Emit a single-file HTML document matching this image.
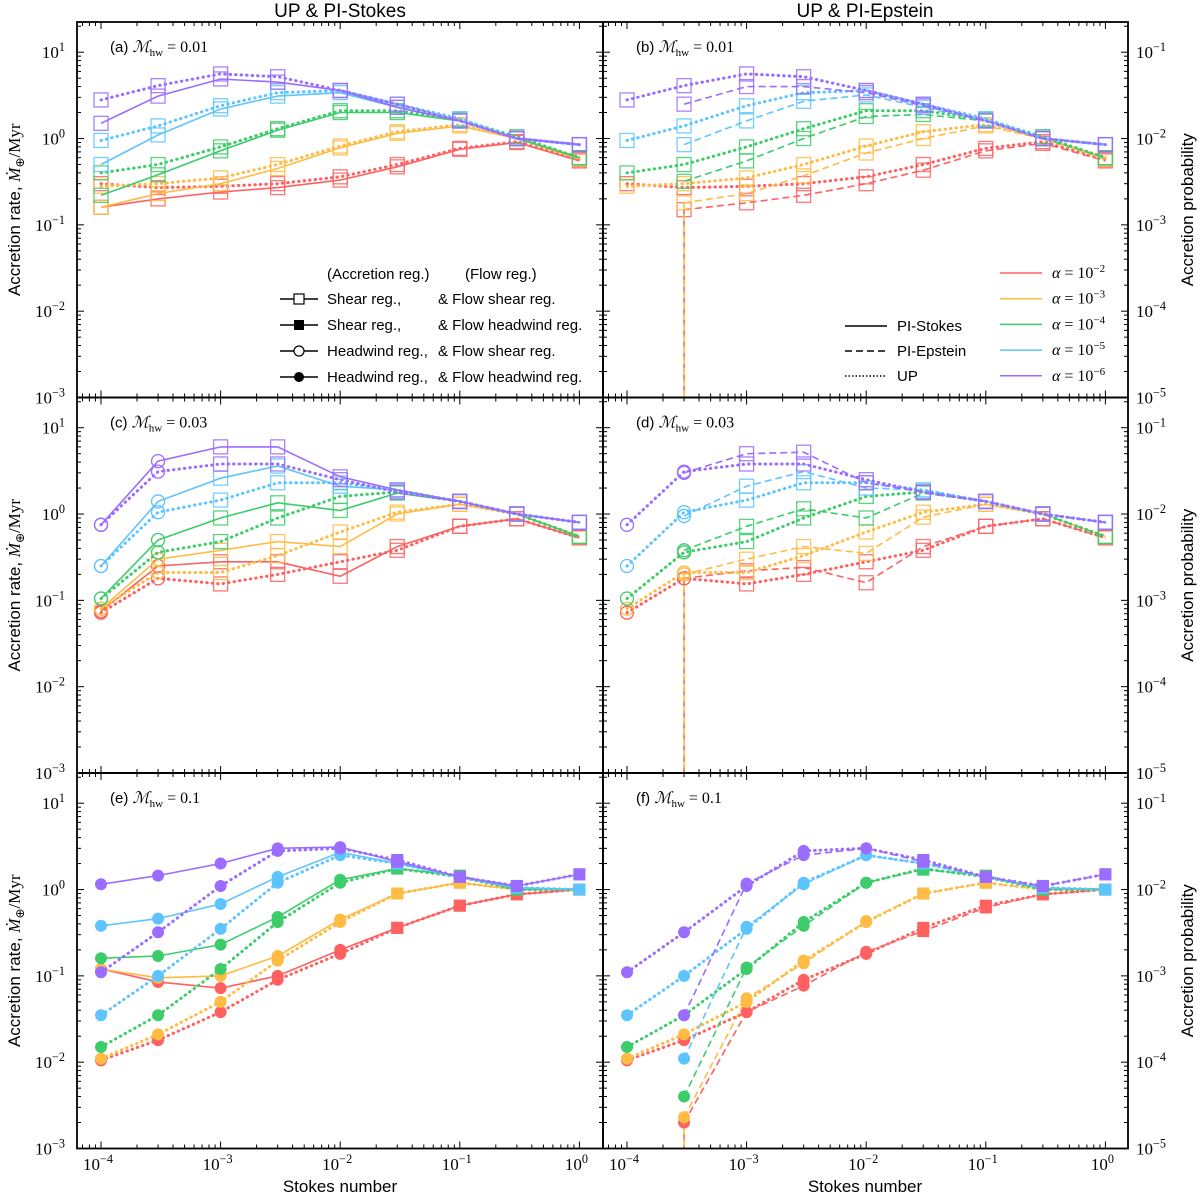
<!DOCTYPE html>
<html><head><meta charset="utf-8"><style>
body{margin:0;background:#fff;}
svg text{font-family:"Liberation Sans","DejaVu Sans",sans-serif;}
.ser{font-family:"Liberation Serif","DejaVu Serif",serif;}
</style></head><body>
<svg id="fig" width="1200" height="1198" viewBox="0 0 1200 1198" xmlns="http://www.w3.org/2000/svg"></svg>
<script>
const stokes=[1e-4,3e-4,1e-3,3e-3,1e-2,3e-2,1e-1,3e-1,1];
const colors=['#ff6060','#ffbb44','#3dcc6a','#5ec4ff','#9a6cff'];
const alphaLabels=['-2','-3','-4','-5','-6'];
const aSolid=[[0.16,0.2,0.24,0.27,0.33,0.47,0.75,0.9,0.55],[0.16,0.23,0.3,0.45,0.78,1.15,1.4,1.0,0.58],[0.22,0.38,0.72,1.25,2.0,2.0,1.6,1.0,0.6],[0.5,1.1,2.2,3.1,3.4,2.3,1.6,1.0,0.85],[1.5,3.1,4.9,4.5,3.6,2.3,1.6,1.0,0.85]];
const aUP=[[0.3,0.27,0.28,0.3,0.36,0.5,0.77,0.92,0.57],[0.28,0.3,0.35,0.5,0.82,1.2,1.45,1.0,0.6],[0.4,0.5,0.8,1.3,2.1,2.1,1.65,1.05,0.6],[0.95,1.4,2.4,3.4,3.6,2.5,1.7,1.0,0.85],[2.8,4.1,5.6,5.2,3.6,2.5,1.6,1.0,0.85]];
const bDash=[[null,0.15,0.18,0.22,0.3,0.43,0.72,0.88,0.55],[null,0.18,0.23,0.37,0.68,1.0,1.4,1.0,0.58],[null,0.32,0.55,1.0,1.8,1.9,1.6,1.0,0.6],[null,0.85,1.6,2.7,3.2,2.3,1.6,1.0,0.85],[null,2.5,4.0,4.0,3.4,2.4,1.6,1.0,0.85]];
const cSolid=[[0.075,0.25,0.28,0.28,0.19,0.42,0.72,0.88,0.53],[0.08,0.3,0.38,0.48,0.42,1.0,1.3,1.0,0.55],[0.105,0.5,0.9,1.35,1.1,1.75,1.4,1.0,0.55],[0.25,1.4,2.6,3.6,2.1,1.9,1.4,1.0,0.8],[0.75,4.1,6.0,6.0,2.7,1.9,1.4,1.0,0.8]];
const cUP=[[0.072,0.18,0.155,0.2,0.28,0.38,0.72,0.88,0.53],[0.08,0.21,0.21,0.33,0.62,1.05,1.3,1.0,0.55],[0.105,0.36,0.48,0.9,1.6,1.8,1.4,1.0,0.55],[0.25,1.05,1.45,2.3,2.3,1.9,1.4,1.0,0.8],[0.75,3.1,3.8,3.8,2.5,1.8,1.4,1.0,0.8]];
const dDash=[[null,0.18,0.22,0.24,0.16,0.42,0.72,0.88,0.53],[null,0.2,0.3,0.42,0.35,0.92,1.3,1.0,0.55],[null,0.38,0.72,1.15,0.9,1.75,1.4,1.0,0.55],[null,0.95,2.1,3.1,2.0,1.9,1.4,1.0,0.8],[null,3.0,5.0,5.2,2.3,1.8,1.4,1.0,0.8]];
const eSolid=[[0.12,0.085,0.072,0.1,0.2,0.36,0.65,0.88,1.0],[0.12,0.095,0.1,0.17,0.45,0.9,1.2,1.0,1.0],[0.16,0.17,0.23,0.48,1.3,1.75,1.45,1.0,1.0],[0.38,0.46,0.68,1.4,2.7,2.0,1.4,1.05,1.0],[1.15,1.45,2.0,3.0,3.1,2.1,1.4,1.1,1.5]];
const eUP=[[0.0105,0.018,0.038,0.09,0.18,0.36,0.65,0.88,1.0],[0.011,0.021,0.05,0.15,0.42,0.9,1.2,1.0,1.0],[0.015,0.035,0.12,0.42,1.2,1.75,1.4,1.0,1.0],[0.035,0.1,0.35,1.2,2.5,2.0,1.4,1.05,1.0],[0.11,0.32,1.1,2.8,3.0,2.2,1.4,1.1,1.5]];
const fDash=[[null,0.002,0.038,0.077,0.19,0.33,0.62,0.88,1.0],[null,0.0023,0.055,0.14,0.43,0.9,1.2,1.0,1.0],[null,0.004,0.125,0.38,1.2,1.7,1.45,1.0,1.0],[null,0.011,0.37,1.15,2.5,2.0,1.4,1.05,1.0],[null,0.035,1.17,2.5,3.0,2.1,1.4,1.1,1.5]];
const panelLabels=['(a)','(b)','(c)','(d)','(e)','(f)'];
const mhw=['0.01','0.01','0.03','0.03','0.1','0.1'];
const xTicks=[-4,-3,-2,-1,0];
const yTicks=[1,0,-1,-2,-3];

const NS='http://www.w3.org/2000/svg';
const svg=document.getElementById('fig');
function el(tag,attrs,parent,txt){const e=document.createElementNS(NS,tag);for(const k in attrs)e.setAttribute(k,attrs[k]);if(txt!=null)e.textContent=txt;(parent||svg).appendChild(e);return e;}
const cols=[{x0:77,x1:603,xa:101},{x0:603,x1:1128,xa:627}];
const rows=[{y0:22,y1:397.5},{y0:397.5,y1:773},{y0:773,y1:1148.5}];
const dec=119.6, ymax=1.35, ymin=-3;
function X(c,v){return cols[c].xa+(Math.log10(v)+4)*dec;}
function Y(r,v){const R=rows[r];return R.y1-(Math.log10(v)-ymin)/(ymax-ymin)*(R.y1-R.y0);}

function sup(parent,x,y,base,exp,anchor,size){
  const t=el('text',{x:x,y:y,'text-anchor':anchor,'font-size':size,class:'ser',fill:'#000'},parent);
  el('tspan',{},t,base);el('tspan',{dy:-7,'font-size':size*0.72},t,'−'+exp.replace('-',''));
  if(exp.indexOf('-')<0){t.lastChild.textContent=exp;}
  return t;
}

function marker(g,kind,x,y,col){
  if(kind==='os'){const m=el('rect',{x:x-7,y:y-7,width:14,height:14,fill:'none',stroke:col,'stroke-width':1.3,opacity:0.85},g);}
  else if(kind==='oc'){const m=el('circle',{cx:x,cy:y,r:6.5,fill:'none',stroke:col,'stroke-width':1.3},g);}
  else if(kind==='fs'){const m=el('rect',{x:x-6,y:y-6,width:12,height:12,fill:col},g);}
  else {const m=el('circle',{cx:x,cy:y,r:6,fill:col},g);}
}
function mkind(row,i){
  if(row===0)return 'os';
  if(row===1)return i<=1?'oc':'os';
  return i<=4?'fc':'fs';
}
const dashes={solid:'',dot:'0.5,5',dash:'7,4'};
function series(c,r,vals,col,style,name){
  const g=el('g',{});
  
  
  const pts=[];vals.forEach((v,i)=>{if(v!=null)pts.push([X(c,stokes[i]),Y(r,v),i]);});
  const p=el('polyline',{points:pts.map(p=>p[0].toFixed(1)+','+p[1].toFixed(1)).join(' '),fill:'none',stroke:col,'stroke-width':style==='dot'?3:1.6,'stroke-dasharray':dashes[style],'stroke-linecap':style==='dot'?'round':'butt'},g);
  
  
  pts.forEach(p=>marker(g,mkind(r,p[2]),p[0],p[1],col));
  return pts;
}

for(let r=0;r<3;r++)for(let c=0;c<2;c++){
  const idx=r*2+c;
  const g=el('g',{});
  
  
  const x0=cols[c].x0,x1=cols[c].x1,y0=rows[r].y0,y1=rows[r].y1;
  for(let d=-5;d<=1;d++)for(let m=1;m<10;m++){
    const v=Math.pow(10,d)*m;const lv=Math.log10(v);
    if(lv<-4.2||lv>0.2)continue;const x=X(c,v);if(x<x0||x>x1)continue;
    const L=m===1?7:4;
    el('line',{x1:x,x2:x,y1:y1,y2:y1-L,stroke:'#000','stroke-width':1},g);
    el('line',{x1:x,x2:x,y1:y0,y2:y0+L,stroke:'#000','stroke-width':1},g);
  }
  for(let d=-3;d<=1;d++)for(let m=1;m<10;m++){
    const v=Math.pow(10,d)*m;if(Math.log10(v)>ymax)continue;const y=Y(r,v);
    const L=m===1?7:4;
    el('line',{x1:x0,x2:x0+L,y1:y,y2:y,stroke:'#000','stroke-width':1},g);
    el('line',{x1:x1,x2:x1-L,y1:y,y2:y,stroke:'#000','stroke-width':1},g);
  }
  const sets=[[aSolid,aUP,bDash],[cSolid,cUP,dDash],[eSolid,eUP,fDash]][r];
  for(let k=0;k<5;k++){
    if(c===0){series(c,r,sets[0][k],colors[k],'solid','pi-stokes-alpha'+alphaLabels[k]);}
    else{
      const pts=series(c,r,sets[2][k],colors[k],'dash','pi-epstein-alpha'+alphaLabels[k]);
      if(k<=1){const vl=el('line',{x1:pts[0][0],x2:pts[0][0],y1:pts[0][1],y2:y1,stroke:colors[k],'stroke-width':1.6,'stroke-dasharray':'7,4'});}
    }
    series(c,r,sets[1][k],colors[k],'dot','up-alpha'+alphaLabels[k]);
  }
  const fr=el('rect',{x:x0,y:y0,width:x1-x0,height:y1-y0,fill:'none',stroke:'#000','stroke-width':1.8});
  
  const pl=el('text',{x:x0+33,y:y0+30,'font-size':15,fill:'#000'},null);
  
  el('tspan',{},pl,panelLabels[idx]+' ');
  el('tspan',{'font-style':'italic',class:'ser','font-size':16},pl,'ℳ');
  el('tspan',{dy:4,'font-size':11,class:'ser'},pl,'hw');
  el('tspan',{dy:-4,class:'ser','font-size':16},pl,' = '+mhw[idx]);
  yTicks.forEach(t=>{
    const y=Y(r,Math.pow(10,t))+6;
    if(c===0){const s=sup(null,65,y,'10',String(t),'end',17);}
    else{const s=sup(null,1136,y,'10',String(t-2),'start',17);}
  });
  if(r===2){xTicks.forEach(t=>{const s=sup(null,X(c,Math.pow(10,t))-3,1170,'10',String(t),'middle',17);});}
  const yc=(y0+y1)/2;
  if(c===0){const t=el('text',{x:0,y:0,transform:`translate(20,${yc}) rotate(-90)`,'text-anchor':'middle','font-size':17,fill:'#000'});
    el('tspan',{},t,'Accretion rate, ');el('tspan',{'font-style':'italic',class:'ser'},t,'Ṁ');el('tspan',{dy:4,'font-size':12},t,'⊕');el('tspan',{dy:-4,class:'ser'},t,'/Myr');}
  else{const t=el('text',{x:0,y:0,transform:`translate(1193,${yc}) rotate(-90)`,'text-anchor':'middle','font-size':17,fill:'#000'},null,'Accretion probability');}
}
let t=el('text',{x:340,y:17,'text-anchor':'middle','font-size':19,fill:'#000'},null,'UP & PI-Stokes');
t=el('text',{x:865,y:17,'text-anchor':'middle','font-size':19,fill:'#000'},null,'UP & PI-Epstein');
t=el('text',{x:340,y:1192,'text-anchor':'middle','font-size':17,fill:'#000'},null,'Stokes number');
t=el('text',{x:865,y:1192,'text-anchor':'middle','font-size':17,fill:'#000'},null,'Stokes number');

const la=el('g',{});
el('text',{x:327,y:279,'font-size':15},la,'(Accretion reg.)');
el('text',{x:465,y:279,'font-size':15},la,'(Flow reg.)');
const regRows=[['os','Shear reg.,','& Flow shear reg.'],['fs','Shear reg.,','& Flow headwind reg.'],['oc','Headwind reg.,','& Flow shear reg.'],['fc','Headwind reg.,','& Flow headwind reg.']];
regRows.forEach((rr,i)=>{const y=299+i*26;const g=el('g',{},la);
  el('line',{x1:280,x2:318,y1:y,y2:y,stroke:'#000','stroke-width':1.5},g);
  if(rr[0]==='os')el('rect',{x:294,y:y-5,width:10,height:10,fill:'#fff',stroke:'#000','stroke-width':1.2},g);
  if(rr[0]==='fs')el('rect',{x:294,y:y-5,width:10,height:10,fill:'#000'},g);
  if(rr[0]==='oc')el('circle',{cx:299,cy:y,r:5,fill:'#fff',stroke:'#000','stroke-width':1.2},g);
  if(rr[0]==='fc')el('circle',{cx:299,cy:y,r:5,fill:'#000'},g);
  el('text',{x:327,y:y+5,'font-size':15},g,rr[1]);el('text',{x:438,y:y+5,'font-size':15},g,rr[2]);});
const lb=el('g',{});
[['solid','PI-Stokes'],['dash','PI-Epstein'],['dot','UP']].forEach((m,i)=>{const y=326+i*25;const g=el('g',{},lb);
  el('line',{x1:845,x2:887,y1:y,y2:y,stroke:'#000','stroke-width':1.5,'stroke-dasharray':m[0]==='dot'?'1.5,2':dashes[m[0]]},g);
  el('text',{x:897,y:y+5,'font-size':15},g,m[1]);});
alphaLabels.forEach((a,i)=>{const y=273+i*25.7;const g=el('g',{},lb);
  el('line',{x1:1000,x2:1042,y1:y,y2:y,stroke:colors[i],'stroke-width':1.5},g);
  const tx=el('text',{x:1052,y:y+5,'font-size':16,class:'ser'},g);el('tspan',{'font-style':'italic'},tx,'α');el('tspan',{},tx,' = 10');el('tspan',{dy:-6,'font-size':11},tx,'−'+a.replace('-',''));});
</script>
</body></html>
